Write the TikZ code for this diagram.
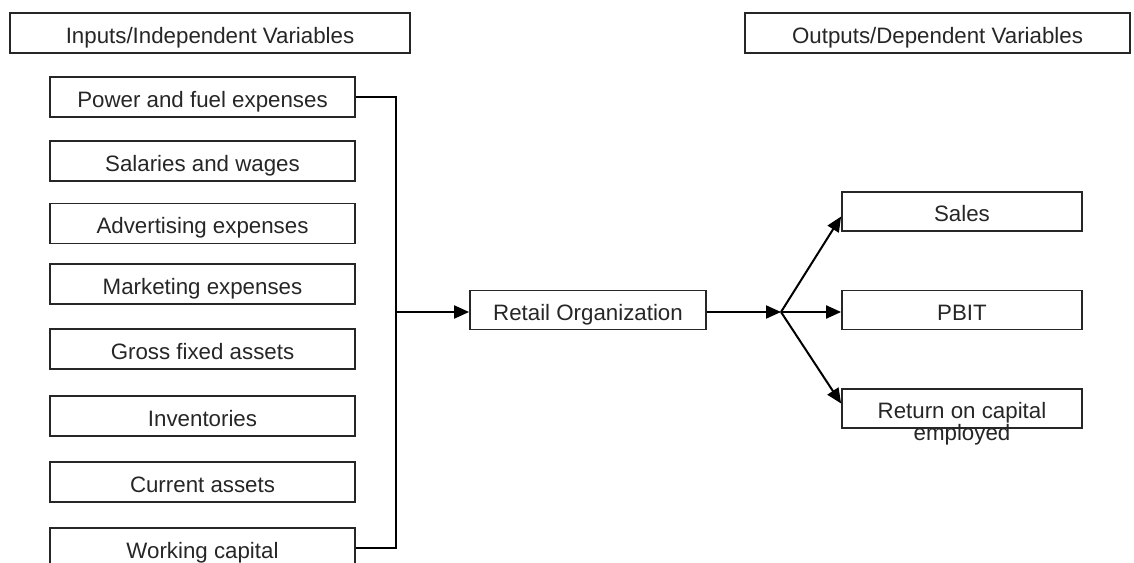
\documentclass[tikz,border=0pt]{standalone}
\usepackage{fontspec}
\setmainfont{Liberation Sans}
\usetikzlibrary{arrows.meta,calc}
\begin{document}
\begin{tikzpicture}[x=1pt,y=-1pt,
  box/.style={draw=black!85, line width=1.8pt, minimum height=40pt, inner sep=0pt,
    font=\fontsize{22.3}{22}\selectfont, text=black!85, text height=22pt, text depth=2pt},
  inbox/.style={box, minimum width=305pt},
  outbox/.style={box, minimum width=240pt, minimum height=39pt},
  conn/.style={line width=2pt, black},
  arr/.style={conn, -{Triangle[length=15pt,width=13pt]}}]
\useasboundingbox (0,0) rectangle (1134,562);
\clip (0,0) rectangle (1134,562);
\node[box, minimum width=400pt] (hin) at (210,33) {Inputs/Independent Variables};
\node[box, minimum width=385pt] (hout) at (937.5,33) {Outputs/Dependent Variables};
\node[inbox] (power) at (202.5,97) {Power and fuel expenses};
\node[inbox] (sal) at (202.5,161) {Salaries and wages};
\node[inbox] (adv) at (202.5,223.5) {Advertising expenses};
\node[inbox] (mkt) at (202.5,284) {Marketing expenses};
\node[inbox] (gfa) at (202.5,349) {Gross fixed assets};
\node[inbox] (inv) at (202.5,416) {Inventories};
\node[inbox] (cur) at (202.5,482) {Current assets};
\node[inbox] (wc) at (202.5,548) {Working capital};
\node[box, minimum width=236pt, minimum height=39pt] (retail) at (588,310) {Retail Organization};
\node[outbox] (sales) at (962,211.5) {Sales};
\node[outbox] (pbit) at (962,310) {PBIT};
\node[outbox] (ret) at (962,408.5) {};
\node[font=\fontsize{22.3}{22}\selectfont, text=black!85, align=center, inner sep=0pt] (rettext) at (962,424) {Return on capital\\employed};
\coordinate (bus) at (395,312);
\coordinate (junc) at (781,312);
\draw[conn] (power.east) -- ++(40,0) |- (wc.east);
\draw[arr] (bus) -- (bus -| retail.west);
\draw[arr] (retail.east |- junc) -- (junc);
\draw[arr] (junc) -- ($(sales.west)+(0,5)$);
\draw[arr] (junc) -- (junc -| pbit.west);
\draw[arr] (junc) -- ($(ret.west)+(0,-5)$);
\end{tikzpicture}
\end{document}
